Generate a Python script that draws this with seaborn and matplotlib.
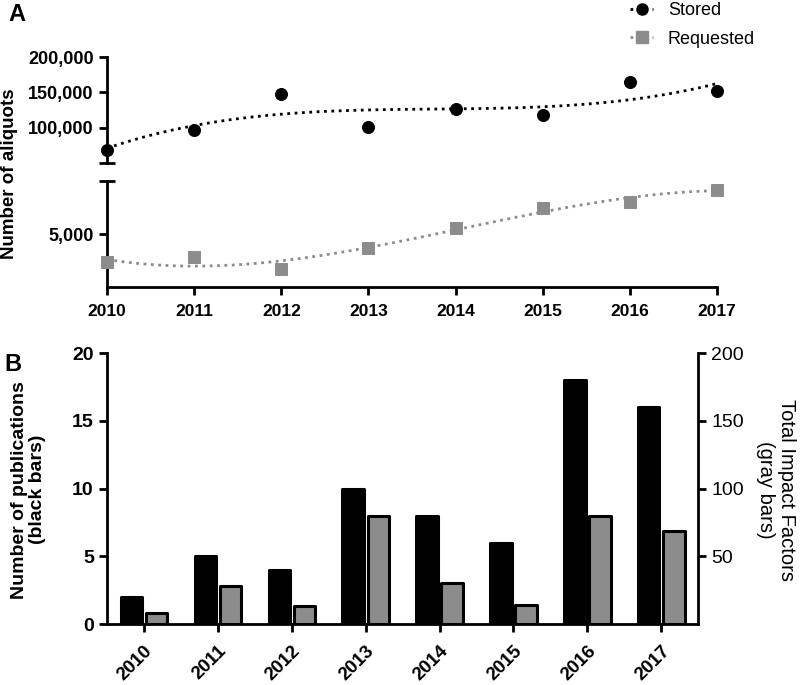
import numpy as np
import pandas as pd
import seaborn as sns
import matplotlib
matplotlib.use("Agg")
import matplotlib.pyplot as plt
from matplotlib.lines import Line2D

# values
years = [2010, 2011, 2012, 2013, 2014, 2015, 2016, 2017]
stored = [69000, 96700, 148000, 101400, 126800, 118300, 164000, 152500]
requested = [2340, 2810, 1730, 3640, 5580, 7440, 8060, 9190]
publications = [2, 5, 4, 10, 8, 6, 18, 16]
impact_factors = [8, 28, 13, 80, 30, 14, 80, 69]

GRAY = "#8c8c8c"

sns.set_style("ticks")
plt.rcParams["font.family"] = ["Liberation Sans", "DejaVu Sans"]
plt.rcParams["text.color"] = "black"
plt.rcParams["axes.labelcolor"] = "black"
plt.rcParams["axes.edgecolor"] = "black"
plt.rcParams["axes.linewidth"] = 2
plt.rcParams["xtick.major.width"] = 2
plt.rcParams["ytick.major.width"] = 2
plt.rcParams["xtick.color"] = "black"
plt.rcParams["ytick.color"] = "black"

fig = plt.figure(figsize=(8, 6.85), dpi=100)

# ---- panel A: broken y axis, two stacked axes
ax_up = fig.add_axes([0.1338, 0.762, 0.7625, 0.1547])
ax_lo = fig.add_axes([0.1338, 0.581, 0.7625, 0.1547])

sns.regplot(x=years, y=stored, order=3, ci=None, scatter=False, ax=ax_up,
            line_kws=dict(color="black", linestyle=":", lw=2))
sns.scatterplot(x=years, y=stored, marker="o", color="black", s=75,
                edgecolor="black", ax=ax_up, clip_on=False, zorder=5)
sns.regplot(x=years, y=requested, order=3, ci=None, scatter=False, ax=ax_lo,
            line_kws=dict(color=GRAY, linestyle=":", lw=2))
sns.scatterplot(x=years, y=requested, marker="s", color=GRAY, s=75,
                edgecolor=GRAY, ax=ax_lo, clip_on=False, zorder=5)

for a in (ax_up, ax_lo):
    a.set_xlim(2010, 2017)
    a.spines["top"].set_visible(False)
    a.spines["right"].set_visible(False)
    a.tick_params(axis="y", length=6)

ax_up.set_ylim(50000, 200000)
ax_up.set_yticks([100000, 150000, 200000])
ax_up.set_yticklabels(["100,000", "150,000", "200,000"], fontweight="bold", fontsize=13)
ax_up.set_yticks([50000], minor=True)
ax_up.tick_params(axis="y", which="minor", direction="inout", length=12, width=2)
ax_up.spines["bottom"].set_visible(False)
ax_up.set_xticks([])

ax_lo.set_ylim(0, 10000)
ax_lo.set_yticks([5000])
ax_lo.set_yticklabels(["5,000"], fontweight="bold", fontsize=13)
ax_lo.set_yticks([10000], minor=True)
ax_lo.tick_params(axis="y", which="minor", direction="inout", length=12, width=2)
ax_lo.set_xticks(years)
ax_lo.set_xticklabels([str(y) for y in years], fontweight="bold", fontsize=12.5)
ax_lo.tick_params(axis="x", length=6, pad=6)

fig.text(0.0125, 0.746, "Number of aliquots", rotation=90, va="center", ha="center",
         fontsize=13.5, fontweight="bold")

handles = [
    Line2D([], [], color="black", linestyle=":", lw=2, marker="o", markersize=8),
    Line2D([], [], color=GRAY, linestyle=":", lw=2, marker="s", markersize=8,
           markeredgecolor=GRAY),
]
fig.legend(handles, ["Stored", "Requested"], loc="upper left",
           bbox_to_anchor=(630 / 800, 1 - 2 / 685), frameon=False, fontsize=13,
           borderpad=0, borderaxespad=0, handlelength=1.3, handletextpad=0.8,
           labelspacing=0.65)

fig.text(0.01, 0.995, "A", fontsize=17, fontweight="bold", va="top")

# ---- panel B: grouped bars with twin y axis
bars = pd.DataFrame({
    "year": years * 2,
    # gray bars share the left scale: right axis is exactly 10x the left axis
    "value": publications + [v / 10 for v in impact_factors],
    "series": ["Publications"] * len(years) + ["Impact"] * len(years),
})

ax_b = fig.add_axes([0.1338, 0.089, 0.739, 0.3956])
sns.barplot(data=bars, x="year", y="value", hue="series", palette=["black", GRAY],
            width=0.68, gap=0.15, edgecolor="black", linewidth=2.2, ax=ax_b,
            legend=False, errorbar=None)
for p in ax_b.patches:
    p.set_joinstyle("round")

ax_b.set_xlim(-0.5, 7.5)
ax_b.set_ylim(0, 20)
ax_b.set_yticks([0, 5, 10, 15, 20])
ax_b.set_yticklabels(["0", "5", "10", "15", "20"], fontweight="bold", fontsize=14)
ax_b.set_xticks(range(len(years)))
ax_b.set_xticklabels([str(y) for y in years], rotation=45, ha="right",
                     rotation_mode="anchor", fontweight="bold", fontsize=13.5)
ax_b.tick_params(axis="both", length=6)
ax_b.tick_params(axis="x", pad=7)
ax_b.set_xlabel("")
ax_b.set_ylabel("")
ax_b.spines["top"].set_visible(False)
ax_b.spines["right"].set_visible(False)

ax_r = ax_b.twinx()
ax_r.set_ylim(0, 200)
ax_r.set_yticks([50, 100, 150, 200])
ax_r.set_yticklabels(["50", "100", "150", "200"], fontsize=14)
ax_r.tick_params(axis="y", length=6)
ax_r.spines["top"].set_visible(False)
ax_r.spines["left"].set_visible(False)
ax_r.spines["bottom"].set_visible(False)

fig.text(0.0356, 0.285, "Number of publications\n(black bars)", rotation=90,
         ha="center", va="center", multialignment="center", fontsize=14,
         fontweight="bold", linespacing=1.15)
fig.text(0.97, 0.285, "Total Impact Factors\n(gray bars)", rotation=270,
         ha="center", va="center", multialignment="center", fontsize=14.5,
         linespacing=1.15)

fig.text(0.006, 0.485, "B", fontsize=17, fontweight="bold", va="top")

fig.savefig("out.png", dpi=100)
